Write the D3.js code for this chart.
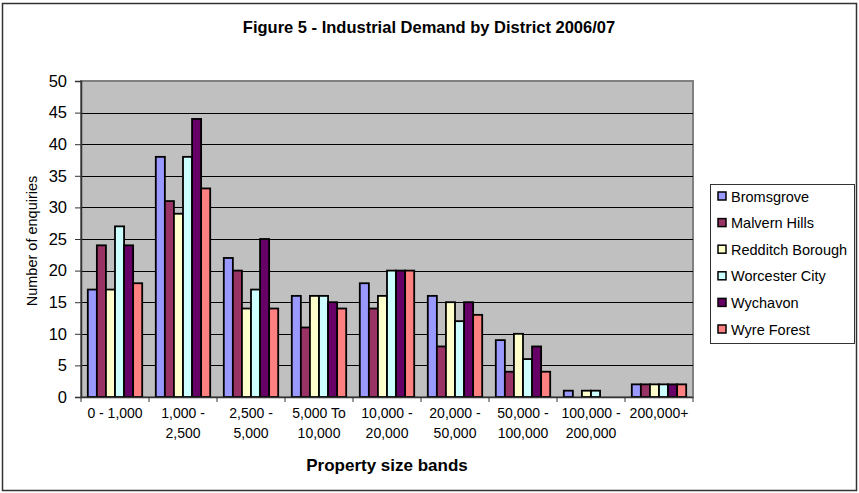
<!DOCTYPE html>
<html>
<head>
<meta charset="utf-8">
<script src="https://cdn.jsdelivr.net/npm/d3@7"></script>
<style>
  html, body { margin: 0; padding: 0; background: #fff; }
  svg { display: block; font-family: "Liberation Sans", Arial, sans-serif; }
</style>
</head>
<body>
<svg id="chart" width="859" height="493"></svg>
<script>
// Property size bands (two-line labels)
const categories = [
  ["0 - 1,000"], ["1,000 -", "2,500"], ["2,500 -", "5,000"], ["5,000 To", "10,000"],
  ["10,000 -", "20,000"], ["20,000 -", "50,000"], ["50,000 -", "100,000"],
  ["100,000 -", "200,000"], ["200,000+"]
];
const districts = ["Bromsgrove", "Malvern Hills", "Redditch Borough", "Worcester City", "Wychavon", "Wyre Forest"];
const colors = ["#9999FF", "#993366", "#FFFFCC", "#CCFFFF", "#660066", "#FF8080"];

// Enquiries per district, one value per size band
const bromsgrove = [17, 38, 22, 16, 18, 16, 9, 1, 2];
const malvernHills = [24, 31, 20, 11, 14, 8, 4, 0, 2];
const redditch = [17, 29, 14, 16, 16, 15, 10, 1, 2];
const worcester = [27, 38, 17, 16, 20, 12, 6, 1, 2];
const wychavon = [24, 44, 25, 15, 20, 15, 8, 0, 2];
const wyreForest = [18, 33, 14, 14, 20, 13, 4, 0, 2];
const series = [bromsgrove, malvernHills, redditch, worcester, wychavon, wyreForest];

const yTicks = [0, 5, 10, 15, 20, 25, 30, 35, 40, 45, 50];

const svg = d3.select("#chart");

// Outer frame
svg.append("rect").attr("x", 2.5).attr("y", 3.5).attr("width", 854).attr("height", 487)
  .attr("fill", "#fff").attr("stroke", "#333").attr("stroke-width", 1.5);

const plot = { left: 81, top: 81, right: 693, bottom: 397 };

const x0 = d3.scaleBand().domain(d3.range(categories.length))
  .range([plot.left, plot.right]).paddingInner(0).paddingOuter(0);
const x1 = d3.scaleBand().domain(d3.range(districts.length))
  .range([0, x0.bandwidth()]).paddingInner(0).paddingOuter(0.75);
const y = d3.scaleLinear().domain([0, 50]).range([plot.bottom, plot.top]);

// Plot area
svg.append("rect").attr("x", plot.left).attr("y", plot.top)
  .attr("width", plot.right - plot.left).attr("height", plot.bottom - plot.top)
  .attr("fill", "#C0C0C0").attr("stroke", "#808080").attr("stroke-width", 2);

// Gridlines
svg.append("g").selectAll("line").data(yTicks.filter(t => t > 0 && t < 50)).join("line")
  .attr("x1", plot.left).attr("x2", plot.right)
  .attr("y1", d => Math.round(y(d)) + 0.5).attr("y2", d => Math.round(y(d)) + 0.5)
  .attr("stroke", "#000").attr("stroke-width", 1.2);

// Bars
const groups = svg.append("g").selectAll("g").data(categories).join("g")
  .attr("transform", (d, i) => `translate(${x0(i)},0)`);
groups.selectAll("rect").data((d, i) => series.map((s, k) => ({ k, v: s[i] }))).join("rect")
  .filter(d => d.v > 0)
  .attr("x", d => x1(d.k))
  .attr("y", d => y(d.v))
  .attr("width", x1.bandwidth())
  .attr("height", d => y(0) - y(d.v))
  .attr("fill", d => colors[d.k])
  .attr("stroke", "#000").attr("stroke-width", 1.8);

// Y axis
const yAxis = svg.append("g").attr("transform", `translate(${plot.left},0)`)
  .call(d3.axisLeft(y).tickValues(yTicks).tickSize(6).tickPadding(8));
yAxis.select(".domain").attr("stroke", "#333").attr("stroke-width", 1.5);
yAxis.selectAll(".tick line").attr("stroke", "#333");
yAxis.selectAll("text").attr("font-size", 16.5).attr("fill", "#000")
  .attr("font-family", "'Liberation Sans', Arial, sans-serif");

// X axis with ticks on category boundaries
const xAxisG = svg.append("g");
xAxisG.append("line").attr("x1", plot.left).attr("x2", plot.right)
  .attr("y1", plot.bottom + 0.5).attr("y2", plot.bottom + 0.5)
  .attr("stroke", "#333").attr("stroke-width", 1.5);
xAxisG.selectAll("line.tk").data(d3.range(categories.length + 1)).join("line")
  .attr("class", "tk")
  .attr("x1", i => i < categories.length ? x0(i) : plot.right)
  .attr("x2", i => i < categories.length ? x0(i) : plot.right)
  .attr("y1", plot.bottom).attr("y2", plot.bottom + 5)
  .attr("stroke", "#333");
const xl = xAxisG.selectAll("text").data(categories).join("text")
  .attr("text-anchor", "middle").attr("font-size", 14).attr("fill", "#000")
  .attr("transform", (d, i) => `translate(${x0(i) + x0.bandwidth() / 2},418)`);
xl.selectAll("tspan").data(d => d).join("tspan")
  .attr("x", 0).attr("dy", (d, j) => j === 0 ? 0 : 20).text(d => d);

// Titles
svg.append("text").attr("x", 429).attr("y", 33).attr("text-anchor", "middle")
  .attr("font-size", 16.5).attr("font-weight", "bold").text("Figure 5 - Industrial Demand by District 2006/07");
svg.append("text").attr("x", 387).attr("y", 471).attr("text-anchor", "middle")
  .attr("font-size", 17).attr("font-weight", "bold").text("Property size bands");
svg.append("text").attr("transform", "translate(37,241) rotate(-90)").attr("text-anchor", "middle")
  .attr("font-size", 14.5).text("Number of enquiries");

// Legend
const lg = svg.append("g");
lg.append("rect").attr("x", 710.5).attr("y", 184.5).attr("width", 144).attr("height", 159)
  .attr("fill", "#fff").attr("stroke", "#333").attr("stroke-width", 1);
const items = lg.selectAll("g").data(districts).join("g")
  .attr("transform", (d, i) => `translate(718,${196 + i * 26.6})`);
items.append("rect").attr("x", 0).attr("y", -4).attr("width", 8).attr("height", 8)
  .attr("fill", (d, i) => colors[i]).attr("stroke", "#000").attr("stroke-width", 1.5);
items.append("text").attr("x", 13).attr("y", 5.5).attr("font-size", 14.5).text(d => d);
</script>
</body>
</html>
